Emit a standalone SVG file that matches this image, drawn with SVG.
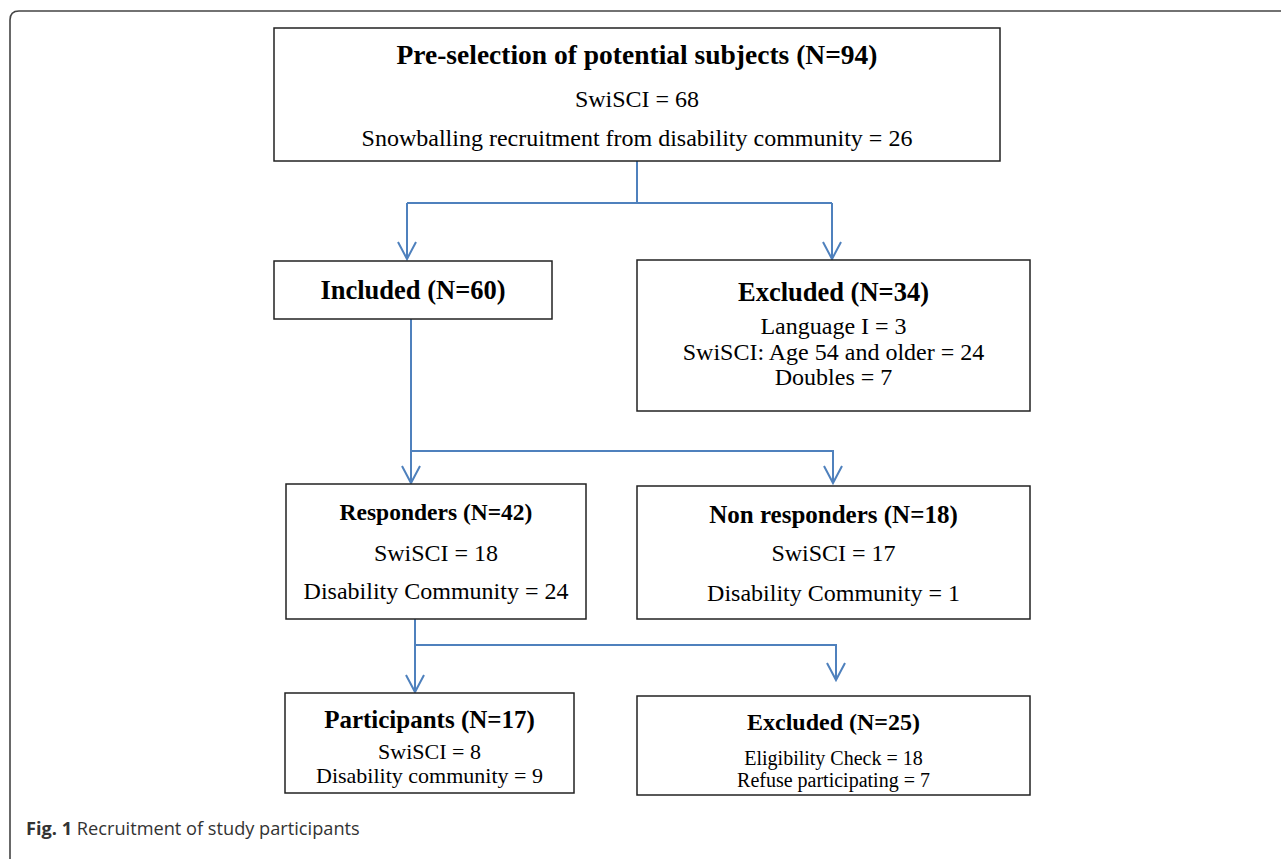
<svg xmlns="http://www.w3.org/2000/svg" width="1281" height="859" viewBox="0 0 1281 859">
<style>
.box{fill:#fff;stroke:#222;stroke-width:1.5}
.t{font-family:"Liberation Serif","Times New Roman",serif;font-size:24px;fill:#000;text-anchor:middle}
.b{font-weight:bold;font-size:26.5px}
.c{fill:none;stroke:#4F81BD;stroke-width:2}
.cap{font-family:"Open Sans","Noto Sans",sans-serif;font-size:18.2px;fill:#333}
</style>
<rect width="1281" height="859" fill="#fff"/>
<path d="M10,859 L10,20 Q10,11 19,11 L1281,11" fill="none" stroke="#444" stroke-width="1.6"/>
<g id="connectors">
<path class="c" d="M637,161 V203 M407,203 H832 M407,203 V259 M832,203 V259"/>
<path class="c" d="M398,242 L407,259 L416,242 M823,242 L832,259 L841,242"/>
<path class="c" d="M411,319 V483 M411,451 H833 V483"/>
<path class="c" d="M402,466 L411,483 L420,466 M824,466 L833,483 L842,466"/>
<path class="c" d="M415,619 V692 M415,645 H836 V680"/>
<path class="c" d="M406,675 L415,692 L424,675 M827,663 L836,680 L845,663"/>
</g>
<g id="preselection">
<rect class="box" x="274" y="28" width="726" height="133"/>
<text class="t b" x="637" y="64" style="font-size:27.5px">Pre-selection of potential subjects (N=94)</text>
<text class="t" x="637" y="107">SwiSCI = 68</text>
<text class="t" x="637" y="146">Snowballing recruitment from disability community = 26</text>
</g>
<g id="included">
<rect class="box" x="274" y="261" width="278" height="58"/>
<text class="t b" x="413" y="299">Included (N=60)</text>
</g>
<g id="excluded1">
<rect class="box" x="637" y="260" width="393" height="151"/>
<text class="t b" x="833.5" y="301">Excluded (N=34)</text>
<text class="t" x="833.5" y="334">Language I = 3</text>
<text class="t" x="833.5" y="360">SwiSCI: Age 54 and older = 24</text>
<text class="t" x="833.5" y="385">Doubles = 7</text>
</g>
<g id="responders">
<rect class="box" x="286" y="484" width="300" height="135"/>
<text class="t b" x="436" y="520" style="font-size:23.5px">Responders (N=42)</text>
<text class="t" x="436" y="561">SwiSCI = 18</text>
<text class="t" x="436" y="599">Disability Community = 24</text>
</g>
<g id="nonresponders">
<rect class="box" x="637" y="486" width="393" height="133"/>
<text class="t b" x="833.5" y="523" style="font-size:25px">Non responders (N=18)</text>
<text class="t" x="833.5" y="561">SwiSCI = 17</text>
<text class="t" x="833.5" y="601">Disability Community = 1</text>
</g>
<g id="participants">
<rect class="box" x="285" y="693" width="289" height="100"/>
<text class="t b" x="429.5" y="728" style="font-size:25px">Participants (N=17)</text>
<text class="t" x="429.5" y="759" style="font-size:22px">SwiSCI = 8</text>
<text class="t" x="429.5" y="783" style="font-size:22px">Disability community = 9</text>
</g>
<g id="excluded2">
<rect class="box" x="637" y="696" width="393" height="99"/>
<text class="t b" x="833.5" y="730" style="font-size:24px">Excluded (N=25)</text>
<text class="t" x="833.5" y="765" style="font-size:20px">Eligibility Check = 18</text>
<text class="t" x="833.5" y="787" style="font-size:20px">Refuse participating = 7</text>
</g>
<text class="cap" x="26" y="835"><tspan font-weight="bold">Fig. 1</tspan> Recruitment of study participants</text>
</svg>
